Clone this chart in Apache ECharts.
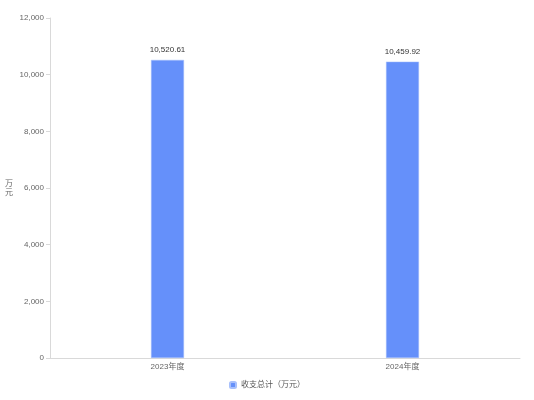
<!DOCTYPE html>
<html><head><meta charset="utf-8">
<script src="https://cdn.jsdelivr.net/npm/echarts@6/dist/echarts.min.js"></script>
<style>html,body{margin:0;padding:0;background:#fff}#c{width:534px;height:400px}</style>
</head><body><div id="c"></div>
<script>
var categories = ['2023年度', '2024年度'];
var values = [10520.61, 10459.92];
var seriesName = '收支总计（万元）';
var yMax = 12000, yInterval = 2000;
var chart = echarts.init(document.getElementById('c'));
chart.setOption({
  animation: false,
  textStyle: {fontFamily: 'Liberation Sans, Noto Sans CJK SC, sans-serif'},
  grid: {left: 50, right: 14, top: 18, bottom: 42},
  legend: {bottom: 6, itemWidth: 6, itemHeight: 6, itemGap: 10, icon: 'roundRect',
    textStyle: {fontSize: 8, color: '#555'}, data: [seriesName]},
  xAxis: {type: 'category', data: categories,
    axisLine: {lineStyle: {color: '#d9d9d9'}},
    axisTick: {alignWithLabel: true, length: 4, lineStyle: {color: '#d9d9d9'}},
    axisLabel: {fontSize: 8, color: '#666', margin: 5}},
  yAxis: {type: 'value', min: 0, max: yMax, interval: yInterval,
    name: '万\n元', nameLocation: 'middle', nameGap: 37, nameRotate: 0,
    nameTextStyle: {fontSize: 8, color: '#666', lineHeight: 9},
    axisLine: {show: true, lineStyle: {color: '#d9d9d9'}},
    axisTick: {show: true, length: 4, lineStyle: {color: '#d9d9d9'}},
    splitLine: {show: false},
    axisLabel: {fontSize: 8, color: '#666', margin: 6,
      formatter: function(v){return v.toLocaleString('en-US');}}},
  series: [{name: seriesName, type: 'bar', data: values, barWidth: 33,
    itemStyle: {color: '#6590fa', borderColor: '#a8c0fb', borderWidth: 0.5},
    label: {show: true, position: 'top', fontSize: 8, color: '#333', distance: 6,
      formatter: function(p){return p.value.toLocaleString('en-US',{minimumFractionDigits:2,maximumFractionDigits:2});}}}]
});
</script></body></html>
